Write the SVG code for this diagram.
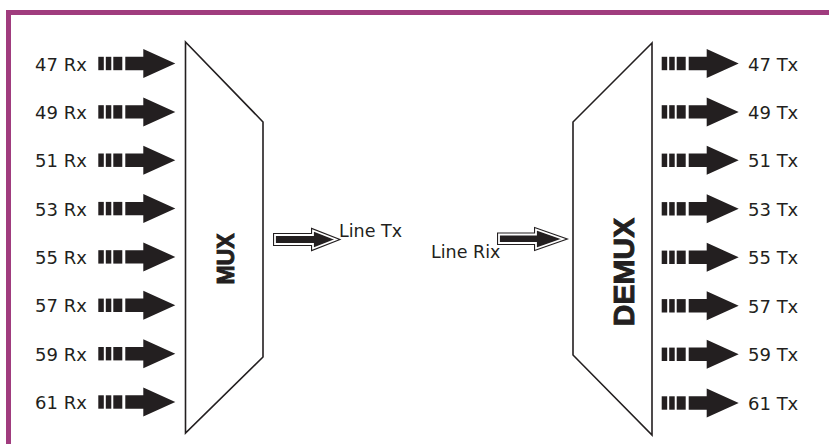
<svg xmlns="http://www.w3.org/2000/svg" xmlns:xlink="http://www.w3.org/1999/xlink" width="829" height="444" viewBox="0 0 829 444">
<style>
.lbl{font-family:"DejaVu Sans",sans-serif;font-size:18px;fill:#231f20}
.line{font-family:"DejaVu Sans",sans-serif;font-size:17.5px;fill:#231f20}
.big{font-family:"Liberation Sans",Arial,sans-serif;font-weight:bold;fill:#231f20;stroke:#231f20;stroke-width:0.9}
.trap{fill:#fff;stroke:#231f20;stroke-width:1.6}
.hollow{fill:#231f20;stroke:#231f20;stroke-width:4;stroke-linejoin:miter}
.hollow2{fill:#231f20;stroke:#fff;stroke-width:1.8;stroke-linejoin:miter}
</style>
<defs>
<g id="darrow" fill="#231f20">
<rect x="0" y="-6.7" width="5.5" height="13.4"/>
<rect x="7.5" y="-6.7" width="5.5" height="13.4"/>
<rect x="15" y="-6.7" width="9" height="13.4"/>
<polygon points="27,-6.7 45,-6.7 45,-14.5 77,0 45,14.5 45,6.7 27,6.7"/>
</g>
</defs>
<rect x="0" y="0" width="829" height="444" fill="#fff"/>
<g id="border" fill="#a03c7e">
<rect x="6" y="10" width="823" height="5"/>
<rect x="6" y="10" width="5" height="434"/>
</g>
<g id="mux">
<polygon class="trap" points="185.5,42 263,122 263,357 185.5,433"/>
<text class="big" font-size="23" text-anchor="middle" transform="translate(234,259) rotate(-90)">MUX</text>
</g>
<g id="demux">
<polygon class="trap" points="652,43 573,122 573,355 652,435"/>
<text class="big" font-size="30" text-anchor="middle" transform="translate(634,272) rotate(-90)">DEMUX</text>
</g>
<g id="inputs">
<g id="in47"><use xlink:href="#darrow" x="98.3" y="63.5"/><text class="lbl" x="35" y="70.5">47 Rx</text></g>
<g id="in49"><use xlink:href="#darrow" x="98.3" y="111.9"/><text class="lbl" x="35" y="118.9">49 Rx</text></g>
<g id="in51"><use xlink:href="#darrow" x="98.3" y="160.2"/><text class="lbl" x="35" y="167.2">51 Rx</text></g>
<g id="in53"><use xlink:href="#darrow" x="98.3" y="208.6"/><text class="lbl" x="35" y="215.6">53 Rx</text></g>
<g id="in55"><use xlink:href="#darrow" x="98.3" y="256.9"/><text class="lbl" x="35" y="263.9">55 Rx</text></g>
<g id="in57"><use xlink:href="#darrow" x="98.3" y="305.3"/><text class="lbl" x="35" y="312.3">57 Rx</text></g>
<g id="in59"><use xlink:href="#darrow" x="98.3" y="353.7"/><text class="lbl" x="35" y="360.7">59 Rx</text></g>
<g id="in61"><use xlink:href="#darrow" x="98.3" y="402"/><text class="lbl" x="35" y="409">61 Rx</text></g>
</g>
<g id="outputs">
<g id="out47"><use xlink:href="#darrow" x="661.7" y="63.5"/><text class="lbl" x="748" y="70.5">47 Tx</text></g>
<g id="out49"><use xlink:href="#darrow" x="661.7" y="111.9"/><text class="lbl" x="748" y="118.9">49 Tx</text></g>
<g id="out51"><use xlink:href="#darrow" x="661.7" y="160.3"/><text class="lbl" x="748" y="167.3">51 Tx</text></g>
<g id="out53"><use xlink:href="#darrow" x="661.7" y="208.8"/><text class="lbl" x="748" y="215.8">53 Tx</text></g>
<g id="out55"><use xlink:href="#darrow" x="661.7" y="257.3"/><text class="lbl" x="748" y="264.3">55 Tx</text></g>
<g id="out57"><use xlink:href="#darrow" x="661.7" y="305.8"/><text class="lbl" x="748" y="312.8">57 Tx</text></g>
<g id="out59"><use xlink:href="#darrow" x="661.7" y="354.3"/><text class="lbl" x="748" y="361.3">59 Tx</text></g>
<g id="out61"><use xlink:href="#darrow" x="661.7" y="403"/><text class="lbl" x="748" y="410">61 Tx</text></g>
</g>
<g id="connectors">
<g id="linetx">
<polygon class="hollow" points="275,235 313,235 313,230.5 336,239.5 313,248.5 313,244 275,244"/>
<polygon class="hollow2" points="275,235 313,235 313,230.5 336,239.5 313,248.5 313,244 275,244"/>
</g>
<g id="linerx">
<polygon class="hollow" points="499,234.5 536,234.5 536,229.5 563,239 536,248.5 536,243 499,243"/>
<polygon class="hollow2" points="499,234.5 536,234.5 536,229.5 563,239 536,248.5 536,243 499,243"/>
</g>
</g>
<g id="labels">
<text class="line" x="339" y="237">Line Tx</text>
<text class="line" x="431" y="258">Line Rix</text>
</g>
</svg>
